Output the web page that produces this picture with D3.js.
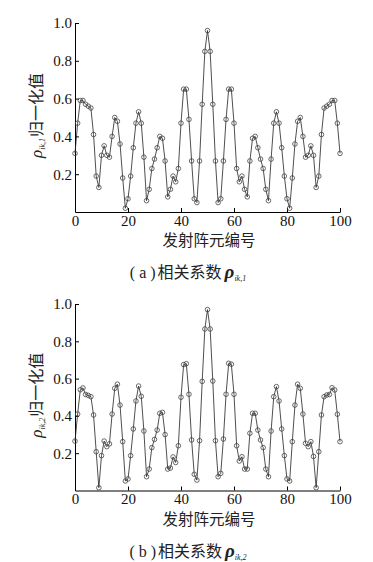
<!DOCTYPE html>
<html>
<head>
<meta charset="utf-8">
<script src="https://cdn.jsdelivr.net/npm/d3@7"></script>
<style>
  body { margin: 0; background: #fff; }
</style>
</head>
<body>
<svg id="chart" width="373" height="562"></svg>
<script>
// tick values
const xTicks = [0, 20, 40, 60, 80, 100];
const yTicks = [0.2, 0.4, 0.6, 0.8, 1.0];

// normalised correlation rho_ik,1 for transmit elements 0..100
const rho1 = [
  0.31, 0.47, 0.59, 0.59, 0.57, 0.56, 0.55, 0.41, 0.19, 0.13,
  0.30, 0.35, 0.30, 0.29, 0.40, 0.50, 0.48, 0.36, 0.18, 0.02,
  0.07, 0.19, 0.34, 0.47, 0.53, 0.47, 0.29, 0.06, 0.12, 0.23,
  0.28, 0.34, 0.40, 0.39, 0.27, 0.08, 0.12, 0.19, 0.16, 0.23,
  0.47, 0.65, 0.65, 0.49, 0.27, 0.07, 0.05, 0.27, 0.57, 0.85,
  0.96,
  0.85, 0.57, 0.27, 0.05, 0.07, 0.27, 0.49, 0.65, 0.65, 0.47,
  0.23, 0.16, 0.19, 0.12, 0.08, 0.27, 0.39, 0.40, 0.34, 0.28,
  0.23, 0.12, 0.06, 0.28, 0.47, 0.53, 0.47, 0.34, 0.19, 0.07,
  0.02, 0.18, 0.36, 0.48, 0.50, 0.40, 0.29, 0.30, 0.35, 0.30,
  0.13, 0.19, 0.41, 0.55, 0.56, 0.57, 0.59, 0.59, 0.47, 0.31
];

// normalised correlation rho_ik,2 for transmit elements 0..100
const rho2 = [
  0.265, 0.41, 0.54, 0.55, 0.515, 0.51, 0.503, 0.405, 0.208, 0.015,
  0.187, 0.265, 0.235, 0.25, 0.41, 0.548, 0.57, 0.458, 0.262, 0.051,
  0.062, 0.187, 0.33, 0.48, 0.56, 0.505, 0.319, 0.074, 0.115, 0.23,
  0.274, 0.324, 0.414, 0.419, 0.30, 0.115, 0.12, 0.18, 0.15, 0.24,
  0.50, 0.675, 0.68, 0.516, 0.271, 0.087, 0.056, 0.267, 0.585, 0.866,
  0.97,
  0.866, 0.587, 0.267, 0.074, 0.092, 0.276, 0.516, 0.682, 0.677, 0.516,
  0.24, 0.158, 0.181, 0.115, 0.115, 0.307, 0.414, 0.414, 0.324, 0.271,
  0.23, 0.115, 0.074, 0.319, 0.503, 0.557, 0.48, 0.33, 0.187, 0.062,
  0.051, 0.262, 0.458, 0.57, 0.548, 0.41, 0.253, 0.235, 0.262, 0.183,
  0.015, 0.208, 0.405, 0.503, 0.512, 0.515, 0.551, 0.539, 0.409, 0.262
];

const xLabel = "发射阵元编号";
const yLabel = "归一化值";
const captionText = "相关系数";

const serif = "'Liberation Serif', 'DejaVu Serif', serif";
const cjk = "'Noto Sans CJK SC', sans-serif";

const svg = d3.select("#chart");

const panels = [
  { values: rho1, letter: "a", sub: "ik,1", top: 23, bottom: 212 },
  { values: rho2, letter: "b", sub: "ik,2", top: 304, bottom: 490.5 }
];

const x = d3.scaleLinear().domain([0, 100]).range([75, 340]);

panels.forEach(p => drawPanel(p));

function drawPanel(p) {
  const y = d3.scaleLinear().domain([0, 1]).range([p.bottom, p.top]);
  const g = svg.append("g");

  // axes, ticks pointing inward
  const yAxis = g.append("g")
    .attr("transform", `translate(${x(0)},0)`)
    .call(d3.axisLeft(y).tickValues(yTicks).tickSizeInner(-4).tickSizeOuter(0)
      .tickPadding(3).tickFormat(d3.format(".1f")));
  const xAxis = g.append("g")
    .attr("transform", `translate(0,${p.bottom})`)
    .call(d3.axisBottom(x).tickValues(xTicks).tickSizeInner(-4).tickSizeOuter(0)
      .tickPadding(3));

  [yAxis, xAxis].forEach(a => {
    a.attr("font-family", serif).attr("font-size", 15);
    a.selectAll("path, line").attr("stroke", "#000").attr("stroke-width", 1);
    a.selectAll("text").attr("fill", "#111");
  });

  // line + open circle markers
  const line = d3.line().x((d, i) => x(i)).y(d => y(d));
  g.append("path")
    .datum(p.values)
    .attr("d", line)
    .attr("fill", "none")
    .attr("stroke", "#222")
    .attr("stroke-width", 0.8);

  g.selectAll("circle")
    .data(p.values)
    .join("circle")
    .attr("cx", (d, i) => x(i))
    .attr("cy", d => y(d))
    .attr("r", 2.3)
    .attr("fill", "none")
    .attr("stroke", "#444")
    .attr("stroke-width", 0.8);

  // y label (rotated)
  const cy = (p.top + p.bottom) / 2 - 2;
  const yl = g.append("text")
    .attr("transform", `translate(42,${cy}) rotate(-90)`)
    .attr("text-anchor", "middle")
    .attr("fill", "#222");
  yl.append("tspan").attr("font-family", serif).attr("font-style", "italic")
    .attr("font-size", 17).text("ρ");
  yl.append("tspan").attr("font-family", serif).attr("font-style", "italic")
    .attr("font-size", 8).attr("dy", 3).text(p.sub);
  yl.append("tspan").attr("font-family", cjk).attr("font-size", 16)
    .attr("dy", -3).attr("dx", 1).text(yLabel);

  // x label
  g.append("text")
    .attr("x", 209)
    .attr("y", p.bottom + 34)
    .attr("text-anchor", "middle")
    .attr("font-family", cjk)
    .attr("font-size", 15.5)
    .attr("fill", "#222")
    .text(xLabel);

  // caption
  const cap = g.append("text")
    .attr("x", 188)
    .attr("y", p.bottom + 66)
    .attr("text-anchor", "middle")
    .attr("fill", "#222");
  cap.append("tspan").attr("font-family", serif).attr("font-size", 16)
    .text(`( ${p.letter} )`);
  cap.append("tspan").attr("font-family", cjk).attr("font-size", 16)
    .attr("dx", 2).text(captionText);
  cap.append("tspan").attr("font-family", serif).attr("font-style", "italic")
    .attr("font-weight", "bold").attr("font-size", 19).attr("dx", 3).text("ρ");
  cap.append("tspan").attr("font-family", serif).attr("font-style", "italic")
    .attr("font-size", 8).attr("dy", 3).text(p.sub);
}
</script>
</body>
</html>
